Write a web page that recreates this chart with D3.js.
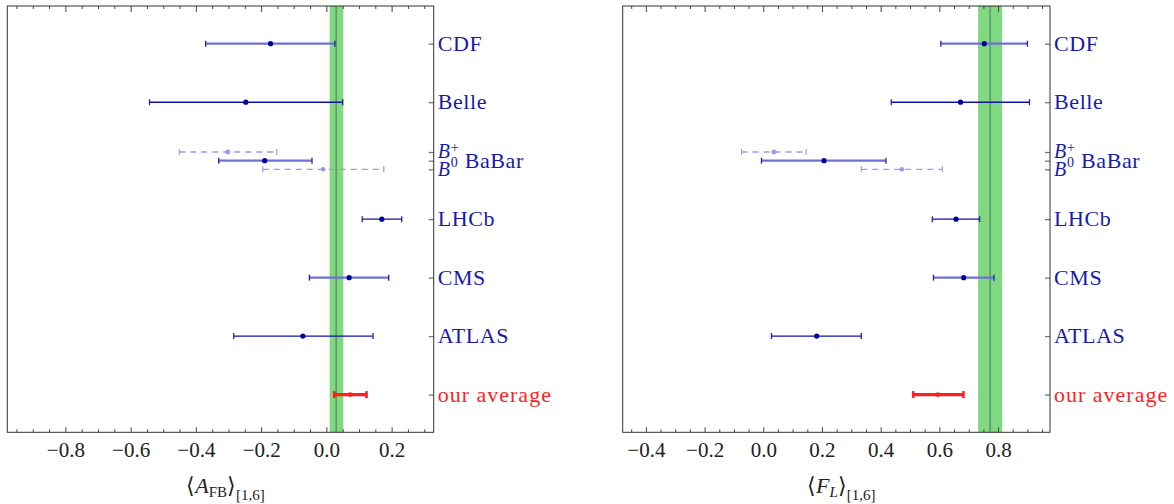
<!DOCTYPE html>
<html>
<head>
  <meta charset="utf-8">
  <title>AFB and FL averages</title>
  <style>
    body { margin: 0; background: #fff; }
    text { font-family: "Liberation Serif", "Times New Roman", serif; }
  </style>
</head>
<body>
  <svg id="svg"></svg>
  <script src="https://d3js.org/d3.v7.min.js"></script>
  <script>
    // rows, top to bottom
    const experiments = ["CDF", "Belle", "BaBar", "LHCb", "CMS", "ATLAS", "our average"];

    // <A_FB>[1,6]
    const afbCentral = [-0.171, -0.247, -0.189, 0.170, 0.070, -0.072, 0.073];
    const afbLow     = [-0.370, -0.542, -0.330, 0.110, -0.052, -0.284, 0.024];
    const afbHigh    = [0.026, 0.050, -0.044, 0.231, 0.191, 0.143, 0.123];

    // <F_L>[1,6]
    const flCentral = [0.753, 0.672, 0.207, 0.657, 0.683, 0.182, 0.595];
    const flLow     = [0.605, 0.436, -0.006, 0.576, 0.580, 0.028, 0.511];
    const flHigh    = [0.900, 0.907, 0.418, 0.737, 0.786, 0.334, 0.682];

    // BaBar split by mode: B+ (above), B0 (below)
    const babarModes = ["B+", "B0"];
    const afbBabarCentral = [-0.302, -0.010];
    const afbBabarLow     = [-0.451, -0.195];
    const afbBabarHigh    = [-0.152, 0.176];
    const flBabarCentral = [0.036, 0.472];
    const flBabarLow     = [-0.074, 0.334];
    const flBabarHigh    = [0.146, 0.610];

    // SM prediction band: low, central, high
    const afbSM = [0.010, 0.030, 0.052];
    const flSM = [0.732, 0.773, 0.814];

    const afbTicks = [-0.8, -0.6, -0.4, -0.2, 0.0, 0.2];
    const flTicks = [-0.4, -0.2, 0.0, 0.2, 0.4, 0.6, 0.8];

    // styling
    const lightRows = ["CDF", "BaBar", "CMS"];
    const labelBlue = "#1a1aaa";
    const red = "#ff1f1f";
    const width = 1174, height = 504;
    const plotTop = 6, plotBottom = 432.3;
    const fmt = d3.format(".1f");

    const svg = d3.select("#svg").attr("width", width).attr("height", height);

    const y = d3.scaleLinear().domain([0.355, 7.645]).range([plotTop, plotBottom]);
    const subOffset = 0.148;

    function drawPanel(opt) {
      const x = d3.scaleLinear().domain(opt.domain).range(opt.range);
      const g = svg.append("g");
      const [x0, x1] = opt.range;

      // SM band
      g.append("rect")
        .attr("x", x(opt.sm[0])).attr("y", plotTop)
        .attr("width", x(opt.sm[2]) - x(opt.sm[0]))
        .attr("height", plotBottom - plotTop)
        .attr("fill", "#80d880");
      g.append("line")
        .attr("x1", x(opt.sm[1])).attr("x2", x(opt.sm[1]))
        .attr("y1", plotTop).attr("y2", plotBottom)
        .attr("stroke", "#5e8e66").attr("stroke-width", 1.4);

      // minor and major ticks, bottom and top
      const minors = d3.range(Math.ceil(opt.domain[0] / 0.05), Math.floor(opt.domain[1] / 0.05) + 1)
        .map(k => +(k * 0.05).toFixed(2))
        .filter(v => !opt.ticks.some(t => Math.abs(t - v) < 1e-6));

      const bottomMinor = d3.axisBottom(x).tickValues(minors).tickSize(-3).tickFormat("");
      const bottomMajor = d3.axisBottom(x).tickValues(opt.ticks).tickSize(-5).tickPadding(10).tickFormat(fmt);
      const topMinor = d3.axisTop(x).tickValues(minors).tickSize(-3).tickFormat("");
      const topMajor = d3.axisTop(x).tickValues(opt.ticks).tickSize(-6).tickFormat("");

      [bottomMinor, bottomMajor].forEach(ax => {
        g.append("g").attr("transform", `translate(0,${plotBottom})`).call(ax)
          .call(s => s.select(".domain").remove());
      });
      [topMinor, topMajor].forEach(ax => {
        g.append("g").attr("transform", `translate(0,${plotTop})`).call(ax)
          .call(s => s.select(".domain").remove());
      });
      g.selectAll(".tick line").attr("stroke", "#444");
      g.selectAll(".tick text")
        .attr("font-size", 21)
        .attr("fill", "#222")
        .style("font-family", "'Liberation Serif', 'Times New Roman', serif");

      // right side ticks at each row
      const rowTicks = [];
      experiments.forEach((e, i) => {
        if (e === "BaBar") rowTicks.push(i + 1 - subOffset, i + 1, i + 1 + subOffset);
        else rowTicks.push(i + 1);
      });
      g.append("g").attr("transform", `translate(${x1},0)`)
        .call(d3.axisLeft(y).tickValues(rowTicks).tickSize(5).tickFormat(""))
        .call(s => s.select(".domain").remove())
        .selectAll("line").attr("stroke", "#777").attr("stroke-width", 1.3);

      // frame
      g.append("rect")
        .attr("x", x0).attr("y", plotTop)
        .attr("width", x1 - x0).attr("height", plotBottom - plotTop)
        .attr("fill", "none").attr("stroke", "#333").attr("stroke-width", 1);

      // BaBar modes (dashed)
      const babarRow = experiments.indexOf("BaBar") + 1;
      babarModes.forEach((m, j) => {
        const yy = y(babarRow + (j === 0 ? -subOffset : subOffset));
        const col = "#9a9aee";
        g.append("line")
          .attr("x1", x(opt.bLow[j])).attr("x2", x(opt.bHigh[j]))
          .attr("y1", yy).attr("y2", yy)
          .attr("stroke", col).attr("stroke-width", 1.3).attr("stroke-dasharray", "6,5");
        [opt.bLow[j], opt.bHigh[j]].forEach(v => {
          g.append("line").attr("x1", x(v)).attr("x2", x(v))
            .attr("y1", yy - 3).attr("y2", yy + 3)
            .attr("stroke", col).attr("stroke-width", 1.2);
        });
        g.append("circle").attr("cx", x(opt.bCentral[j])).attr("cy", yy).attr("r", 2.4).attr("fill", col);
      });

      // main error bars
      experiments.forEach((e, i) => {
        const yy = y(i + 1);
        const isAvg = e === "our average";
        const light = lightRows.includes(e);
        const col = isAvg ? red : (light ? "#7070d4" : "#1010aa");
        const sw = isAvg ? 3.2 : (light ? 2.2 : 1.4);
        g.append("line")
          .attr("x1", x(opt.low[i])).attr("x2", x(opt.high[i]))
          .attr("y1", yy).attr("y2", yy)
          .attr("stroke", col).attr("stroke-width", sw);
        [opt.low[i], opt.high[i]].forEach(v => {
          g.append("line").attr("x1", x(v)).attr("x2", x(v))
            .attr("y1", yy - (isAvg ? 3.5 : 3)).attr("y2", yy + (isAvg ? 3.5 : 3))
            .attr("stroke", isAvg ? red : "#2020b0").attr("stroke-width", isAvg ? 2.6 : 1.3);
        });
        g.append("circle").attr("cx", x(opt.central[i])).attr("cy", yy)
          .attr("r", isAvg ? 2.4 : 2.6).attr("fill", isAvg ? red : "#00009e");
      });

      // row labels
      const lx = x1 + 4;
      experiments.forEach((e, i) => {
        const yy = y(i + 1);
        if (e === "BaBar") {
          const yp = y(i + 1 - subOffset), y0 = y(i + 1 + subOffset);
          g.append("text").attr("x", lx).attr("y", yp + 6)
            .attr("font-size", 20).attr("font-style", "italic").attr("fill", labelBlue).text("B");
          g.append("text").attr("x", lx + 13).attr("y", yp - 0.5)
            .attr("font-size", 14).attr("fill", labelBlue).text("+");
          g.append("text").attr("x", lx).attr("y", y0 + 7)
            .attr("font-size", 20).attr("font-style", "italic").attr("fill", labelBlue).text("B");
          g.append("text").attr("x", lx + 13).attr("y", y0 - 2)
            .attr("font-size", 14).attr("fill", labelBlue).text("0");
          g.append("text").attr("x", lx + 27).attr("y", yy).attr("dy", "0.33em")
            .attr("font-size", 22).attr("letter-spacing", 0.6).attr("fill", labelBlue).text("BaBar");
        } else {
          g.append("text").attr("x", lx).attr("y", yy).attr("dy", "0.33em")
            .attr("font-size", 22)
            .attr("letter-spacing", e === "our average" ? 1 : 0.6)
            .attr("fill", e === "our average" ? red : labelBlue)
            .text(e);
        }
      });

      // axis title
      const t = g.append("text")
        .attr("x", (x0 + x1) / 2 + 5).attr("y", 493)
        .attr("text-anchor", "middle").attr("font-size", 22).attr("fill", "#222");
      t.append("tspan").text("\u27E8");
      t.append("tspan").attr("font-style", "italic").text(opt.titleMain);
      t.append("tspan").attr("font-size", 15).attr("dy", 4)
        .attr("font-style", opt.subItalic ? "italic" : "normal").text(opt.titleSub);
      t.append("tspan").attr("dy", -4).text("\u27E9");
      t.append("tspan").attr("font-size", 15).attr("dy", 7).text("[1,6]");
    }

    drawPanel({
      domain: [-0.978, 0.329], range: [7.3, 433.7],
      central: afbCentral, low: afbLow, high: afbHigh,
      bCentral: afbBabarCentral, bLow: afbBabarLow, bHigh: afbBabarHigh,
      sm: afbSM, ticks: afbTicks,
      titleMain: "A", titleSub: "FB", subItalic: false
    });

    drawPanel({
      domain: [-0.479, 0.977], range: [622.7, 1050],
      central: flCentral, low: flLow, high: flHigh,
      bCentral: flBabarCentral, bLow: flBabarLow, bHigh: flBabarHigh,
      sm: flSM, ticks: flTicks,
      titleMain: "F", titleSub: "L", subItalic: true
    });
  </script>
</body>
</html>
